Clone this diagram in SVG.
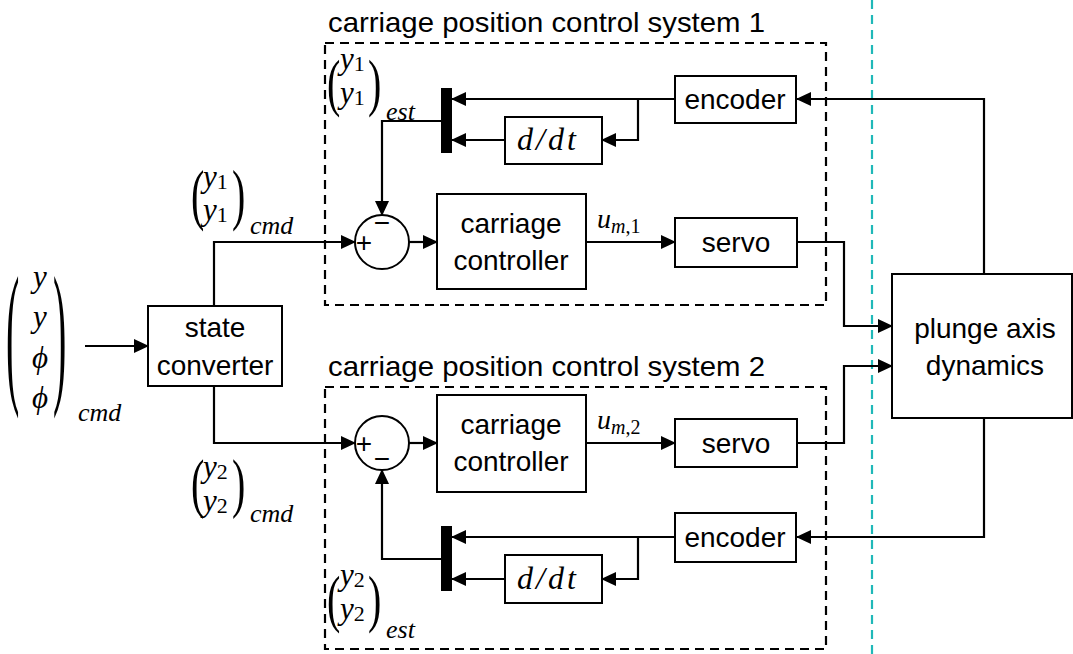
<svg xmlns="http://www.w3.org/2000/svg" width="1073" height="654" viewBox="0 0 1073 654">
<style>
.blk{fill:#fff;stroke:#000;stroke-width:2}
.dash{fill:none;stroke:#000;stroke-width:2.2;stroke-dasharray:9 6}
.ln{fill:none;stroke:#000;stroke-width:2.2;marker-end:url(#ah)}
.t{font-family:"Liberation Sans",Arial,sans-serif;font-size:28px;fill:#000}
.tt{font-family:"Liberation Sans",Arial,sans-serif;font-size:28px;fill:#000}
.m{font-family:"Liberation Serif","Times New Roman",serif;font-style:italic;fill:#000}
.mn{font-family:"Liberation Serif","Times New Roman",serif;font-style:normal;fill:#000}
.p{font-family:"Liberation Serif","Times New Roman",serif;fill:#000}
</style>
<defs>
<marker id="ah" markerUnits="userSpaceOnUse" markerWidth="16" markerHeight="14" refX="15" refY="7" orient="auto">
<path d="M1,0 L16,7 L1,14 Z" fill="#000"/>
</marker>
</defs>
<rect width="1073" height="654" fill="#fff"/>

<line x1="872" y1="0" x2="872" y2="654" stroke="#1fb8b8" stroke-width="2.2" stroke-dasharray="9 6"/>

<g id="group1">
<rect class="dash" x="325" y="43" width="501" height="262"/>
<text class="tt" x="328" y="32" textLength="437" lengthAdjust="spacingAndGlyphs">carriage position control system 1</text>
</g>
<g id="group2">
<rect class="dash" x="325" y="387" width="501" height="262"/>
<text class="tt" x="328" y="376" textLength="437" lengthAdjust="spacingAndGlyphs">carriage position control system 2</text>
</g>

<g id="connectors">
<path class="ln" d="M85,346 H148"/>
<path class="ln" d="M214,306 V242 H355"/>
<path class="ln" d="M214,386 V443 H355"/>
<path class="ln" d="M409,242 H437"/>
<path class="ln" d="M586,242 H675"/>
<path class="ln" d="M797,242 H844 V326 H892"/>
<path class="ln" d="M409,443 H437"/>
<path class="ln" d="M586,443 H675"/>
<path class="ln" d="M797,443 H844 V366 H892"/>
<path class="ln" d="M984,274 V99 H797"/>
<path class="ln" d="M984,418 V537 H797"/>
<path class="ln" d="M675,99 H452"/>
<path class="ln" d="M638,99 V140 H602"/>
<path class="ln" d="M505,140 H452"/>
<path class="ln" d="M441,121 H382 V215"/>
<path class="ln" d="M675,537 H452"/>
<path class="ln" d="M638,537 V579 H602"/>
<path class="ln" d="M505,579 H452"/>
<path class="ln" d="M441,559 H382 V470"/>
</g>

<g id="state_converter">
<rect class="blk" x="148" y="306" width="134" height="80"/>
<text class="t" x="215" y="337" text-anchor="middle">state</text>
<text class="t" x="215" y="375" text-anchor="middle">converter</text>
</g>

<g id="sum1">
<circle class="blk" cx="382" cy="242" r="27"/>
<text class="t" x="364" y="252" text-anchor="middle" font-size="24">+</text>
<text class="t" x="382" y="232" text-anchor="middle" font-size="26">−</text>
</g>
<g id="controller1">
<rect class="blk" x="437" y="194" width="149" height="95"/>
<text class="t" x="511" y="233" text-anchor="middle">carriage</text>
<text class="t" x="511" y="270" text-anchor="middle">controller</text>
</g>
<g id="servo1">
<rect class="blk" x="675" y="218" width="122" height="49"/>
<text class="t" x="736" y="252" text-anchor="middle">servo</text>
</g>
<g id="encoder1">
<rect class="blk" x="675" y="76" width="121" height="47"/>
<text class="t" x="735" y="109" text-anchor="middle">encoder</text>
</g>
<g id="ddt1">
<rect class="blk" x="505" y="117" width="97" height="47"/>
<text class="m" x="517" y="150" font-size="32" letter-spacing="3">d/dt</text>
</g>
<g id="mux1">
<rect x="441" y="88" width="11" height="65" fill="#000"/>
</g>

<g id="sum2">
<circle class="blk" cx="382" cy="443" r="27"/>
<text class="t" x="364" y="453" text-anchor="middle" font-size="24">+</text>
<text class="t" x="382" y="468" text-anchor="middle" font-size="26">−</text>
</g>
<g id="controller2">
<rect class="blk" x="437" y="395" width="149" height="97"/>
<text class="t" x="511" y="434" text-anchor="middle">carriage</text>
<text class="t" x="511" y="471" text-anchor="middle">controller</text>
</g>
<g id="servo2">
<rect class="blk" x="675" y="419" width="122" height="48"/>
<text class="t" x="736" y="453" text-anchor="middle">servo</text>
</g>
<g id="encoder2">
<rect class="blk" x="675" y="513" width="121" height="49"/>
<text class="t" x="735" y="547" text-anchor="middle">encoder</text>
</g>
<g id="ddt2">
<rect class="blk" x="505" y="555" width="97" height="48"/>
<text class="m" x="517" y="589" font-size="32" letter-spacing="3">d/dt</text>
</g>
<g id="mux2">
<rect x="441" y="526" width="11" height="65" fill="#000"/>
</g>

<g id="plunge">
<rect class="blk" x="892" y="274" width="180" height="144"/>
<text class="t" x="985" y="338" text-anchor="middle">plunge axis</text>
<text class="t" x="985" y="375" text-anchor="middle">dynamics</text>
</g>

<g id="label_um1">
<text class="m" x="597" y="228" font-size="28">u<tspan font-size="20" dy="5">m</tspan><tspan class="mn" font-size="20">,1</tspan></text>
</g>
<g id="label_um2">
<text class="m" x="597" y="429" font-size="28">u<tspan font-size="20" dy="5">m</tspan><tspan class="mn" font-size="20">,2</tspan></text>
</g>

<g id="label_input">
<text class="p" font-size="40" transform="translate(6,384.6) scale(1,3.9)">(</text>
<text class="p" font-size="40" transform="translate(53,384.6) scale(1,3.9)">)</text>
<text class="m" font-size="31" x="33" y="287">y</text>
<text class="m" font-size="31" x="33" y="327">y</text>
<text class="m" font-size="31" x="32" y="368">ϕ</text>
<text class="m" font-size="31" x="32" y="408">ϕ</text>
<text class="m" font-size="26" x="78" y="421">cmd</text>
</g>

<g id="label_cmd1">
<text class="p" font-size="40" transform="translate(191,217) scale(1,1.7)">(</text>
<text class="p" font-size="40" transform="translate(232,217) scale(1,1.7)">)</text>
<text class="m" font-size="31" x="203" y="187">y<tspan class="mn" font-size="22" dy="2">1</tspan></text>
<text class="m" font-size="31" x="203" y="220">y<tspan class="mn" font-size="22" dy="2">1</tspan></text>
<text class="m" font-size="26" x="250" y="234">cmd</text>
</g>
<g id="label_cmd2">
<text class="p" font-size="40" transform="translate(191,505) scale(1,1.65)">(</text>
<text class="p" font-size="40" transform="translate(232,505) scale(1,1.65)">)</text>
<text class="m" font-size="31" x="203" y="477">y<tspan class="mn" font-size="22" dy="2">2</tspan></text>
<text class="m" font-size="31" x="203" y="511">y<tspan class="mn" font-size="22" dy="2">2</tspan></text>
<text class="m" font-size="26" x="250" y="522">cmd</text>
</g>
<g id="label_est1">
<text class="p" font-size="40" transform="translate(327,104) scale(1,1.6)">(</text>
<text class="p" font-size="40" transform="translate(368,104) scale(1,1.6)">)</text>
<text class="m" font-size="31" x="340" y="69">y<tspan class="mn" font-size="22" dy="2">1</tspan></text>
<text class="m" font-size="31" x="340" y="103">y<tspan class="mn" font-size="22" dy="2">1</tspan></text>
<text class="m" font-size="26" x="386" y="120">est</text>
</g>
<g id="label_est2">
<text class="p" font-size="40" transform="translate(327,620) scale(1,1.6)">(</text>
<text class="p" font-size="40" transform="translate(368,620) scale(1,1.6)">)</text>
<text class="m" font-size="31" x="340" y="585">y<tspan class="mn" font-size="22" dy="2">2</tspan></text>
<text class="m" font-size="31" x="340" y="619">y<tspan class="mn" font-size="22" dy="2">2</tspan></text>
<text class="m" font-size="26" x="386" y="638">est</text>
</g>
</svg>
